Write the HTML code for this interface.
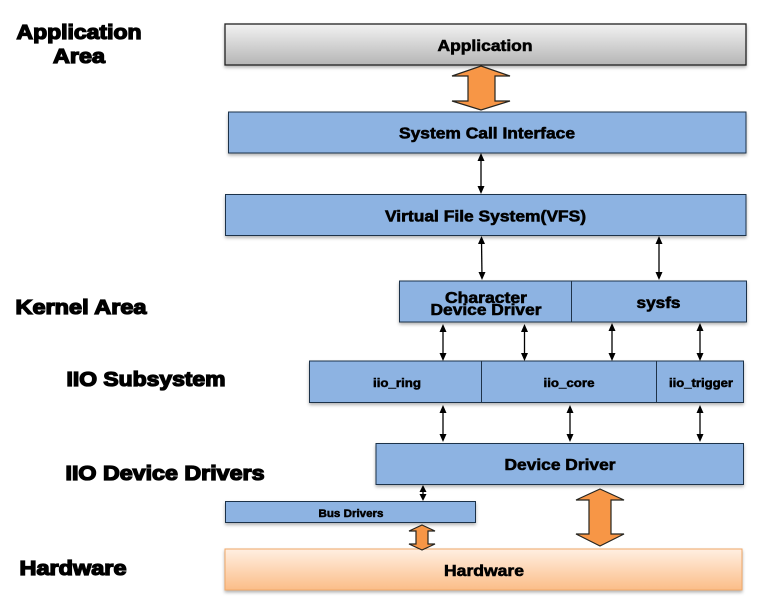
<!DOCTYPE html>
<html>
<head>
<meta charset="utf-8">
<style>
html,body{margin:0;padding:0;background:#fff;width:762px;height:606px;overflow:hidden}
svg{display:block;filter:blur(.3px)}
text{font-family:"Liberation Sans",sans-serif;font-weight:bold;fill:#000;stroke:#000;text-anchor:middle}
.b{fill:#8db3e2;stroke:#1f3349;stroke-width:1}
.o{fill:#f79646;stroke:#26241f;stroke-width:1.2}
.a{stroke:#000;stroke-width:1.3;fill:none}
.h{fill:#000;stroke:none}
.t{stroke-width:.6;font-size:16px}
.l{stroke-width:1.3;font-size:20px}
</style>
</head>
<body>
<svg width="762" height="606" viewBox="0 0 762 606" xmlns="http://www.w3.org/2000/svg">
<defs>
<linearGradient id="g" x1="0" y1="0" x2="0" y2="1"><stop offset="0" stop-color="#f2f2f2"/><stop offset="1" stop-color="#b5b5b5"/></linearGradient>
<linearGradient id="hw" x1="0" y1="0" x2="0" y2="1"><stop offset="0" stop-color="#ffefe2"/><stop offset="1" stop-color="#fbbd88"/></linearGradient>
<filter id="s" x="-3%" y="-20%" width="106%" height="150%"><feDropShadow dx="0" dy="2" stdDeviation="1.5" flood-color="#000" flood-opacity=".3"/></filter>
</defs>

<!-- Boxes -->
<rect x="225" y="24" width="521" height="41" fill="url(#g)" stroke="#222" stroke-width="1.3" filter="url(#s)"/>
<rect x="228.500" y="112" width="517.500" height="41" class="b" filter="url(#s)"/>
<rect x="225.500" y="194.500" width="520.500" height="41" class="b" filter="url(#s)"/>
<rect x="399.500" y="281" width="347" height="41" class="b" filter="url(#s)"/>
<line x1="571.500" y1="281" x2="571.500" y2="322" stroke="#1f3349"/>
<rect x="309.500" y="361" width="434" height="41.500" class="b" filter="url(#s)"/>
<line x1="481.500" y1="361" x2="481.500" y2="402" stroke="#1f3349"/>
<line x1="656.500" y1="361" x2="656.500" y2="402" stroke="#1f3349"/>
<rect x="376" y="443.500" width="367.500" height="41" class="b" filter="url(#s)"/>
<rect x="225.500" y="501.500" width="250" height="21" class="b" filter="url(#s)"/>
<rect x="225" y="549" width="517" height="41" fill="url(#hw)" stroke="#f0a868" stroke-width="1" filter="url(#s)"/>

<!-- Orange double arrows -->
<polygon class="o" points="481,66 510,76 495,76 495,101 510,101 481,110 452,101 468,101 468,76 452,76"/>
<polygon class="o" points="600,489 624,500 611,500 611,534 624,534 600,546 576,534 589,534 589,500 576,500"/>
<polygon class="o" points="422,525 435,531 428,531 428,544 435,544 422,550 409,544 416,544 416,531 409,531"/>

<!-- Thin arrows -->
<g class="a">
<line x1="481" y1="157" x2="481" y2="191"/>
<line x1="481.500" y1="240" x2="482" y2="277"/>
<line x1="659" y1="240" x2="659" y2="277"/>
<line x1="443" y1="327" x2="443" y2="358"/>
<line x1="524.500" y1="327" x2="524.500" y2="358"/>
<line x1="612" y1="326" x2="612" y2="358"/>
<line x1="700" y1="326" x2="700" y2="358"/>
<line x1="443" y1="408" x2="443" y2="439"/>
<line x1="570" y1="408" x2="570" y2="439"/>
<line x1="700" y1="408" x2="700" y2="439"/>
<line x1="423" y1="488" x2="423" y2="498"/>
</g>
<g class="h">
<path d="M481 153l-3.500 8h7z"/><path d="M481 194l-3.500-8h7z"/>
<path d="M481.500 236l-3.500 8h7z"/><path d="M482 280l-3.500-8h7z"/>
<path d="M659 236l-3.500 8h7z"/><path d="M659 280l-3.500-8h7z"/>
<path d="M443 324l-3.500 8h7z"/><path d="M443 361l-3.500-8h7z"/>
<path d="M524.500 324l-3.500 8h7z"/><path d="M524.500 361l-3.500-8h7z"/>
<path d="M612 323l-3.500 8h7z"/><path d="M612 361l-3.500-8h7z"/>
<path d="M700 323l-3.500 8h7z"/><path d="M700 361l-3.500-8h7z"/>
<path d="M443 405l-3.500 8h7z"/><path d="M443 442l-3.500-8h7z"/>
<path d="M570 405l-3.500 8h7z"/><path d="M570 442l-3.500-8h7z"/>
<path d="M700 405l-3.500 8h7z"/><path d="M700 442l-3.500-8h7z"/>
<path d="M423 485l-3.500 7h7z"/><path d="M423 501l-3.500-7h7z"/>
</g>

<!-- Box labels -->
<text class="t" x="485" y="51" textLength="95" lengthAdjust="spacingAndGlyphs">Application</text>
<text class="t" x="487" y="138.500" textLength="176" lengthAdjust="spacingAndGlyphs">System Call Interface</text>
<text class="t" x="485.500" y="221.500" textLength="201" lengthAdjust="spacingAndGlyphs">Virtual File System(VFS)</text>
<text class="t" x="486" y="303" textLength="82" lengthAdjust="spacingAndGlyphs">Character</text>
<text class="t" x="486" y="315" textLength="111" lengthAdjust="spacingAndGlyphs">Device Driver</text>
<text class="t" x="658.500" y="308" textLength="44" lengthAdjust="spacingAndGlyphs">sysfs</text>
<text class="t" x="397" y="387" style="font-size:12px;stroke-width:.5" textLength="48" lengthAdjust="spacingAndGlyphs">iio_ring</text>
<text class="t" x="569" y="387" style="font-size:12px;stroke-width:.5" textLength="51" lengthAdjust="spacingAndGlyphs">iio_core</text>
<text class="t" x="701" y="387" style="font-size:12px;stroke-width:.5" textLength="64" lengthAdjust="spacingAndGlyphs">iio_trigger</text>
<text class="t" x="560" y="470" textLength="111" lengthAdjust="spacingAndGlyphs">Device Driver</text>
<text class="t" x="351" y="517" style="font-size:11px;stroke-width:.5" textLength="65" lengthAdjust="spacingAndGlyphs">Bus Drivers</text>
<text class="t" x="484" y="576" textLength="80" lengthAdjust="spacingAndGlyphs">Hardware</text>

<!-- Side labels -->
<text class="l" x="79" y="39" textLength="125" lengthAdjust="spacingAndGlyphs">Application</text>
<text class="l" x="79" y="63" textLength="52" lengthAdjust="spacingAndGlyphs">Area</text>
<text class="l" x="81" y="314" textLength="131" lengthAdjust="spacingAndGlyphs">Kernel  Area</text>
<text class="l" x="146" y="386" textLength="159" lengthAdjust="spacingAndGlyphs">IIO Subsystem</text>
<text class="l" x="165" y="480" textLength="199" lengthAdjust="spacingAndGlyphs">IIO Device Drivers</text>
<text class="l" x="73" y="575" textLength="107" lengthAdjust="spacingAndGlyphs">Hardware</text>
</svg>
</body>
</html>
